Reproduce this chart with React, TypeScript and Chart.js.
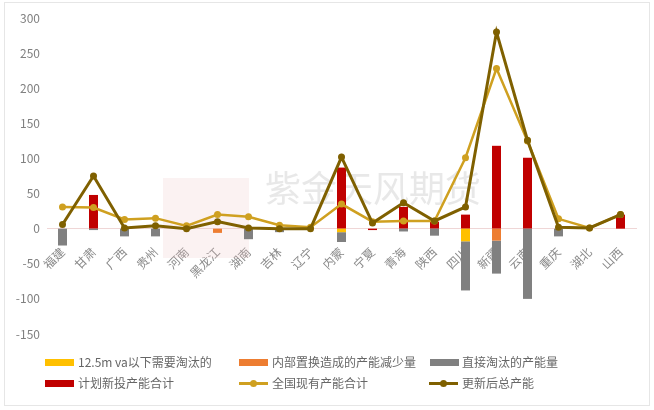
import React, { useEffect, useRef } from "react";
import { Chart, registerables } from "chart.js";

Chart.register(...registerables);

const categories = ["福建", "甘肃", "广西", "贵州", "河南", "黑龙江", "湖南", "吉林", "辽宁", "内蒙", "宁夏", "青海", "陕西", "四川", "新疆", "云南", "重庆", "湖北", "山西"];
const smallElim = [0, 0, 0, 0, 0, 0, 0, 0, 0, -5, 0, 0, 0, -18, 0, 0, 0, 0, 0];
const internalReplace = [0, 0, 0, 0, 0, -6, 0, 0, 0, 0, 0, 0, 0, 0, -17, 0, 0, 0, 0];
const directElim = [-24, -2, -11, -11, -1, 0, -15, -5, 0, -14, 0, -4, -10, -70, -47, -100, -11, 0, 0];
const plannedNew = [0, 48, 0, 0, 0, 0, 0, 0, 0, 87, -2, 31, 10, 20, 118, 101, 0, 0, 20];
const existingTotal = [31, 30, 13, 15, 4, 20, 17, 5, 2, 35, 10, 11, 11, 101, 228, 125, 14, 1, 20];
const updatedTotal = [6, 75, 1, 4, 0, 10, 1, 0, 0, 102, 8, 37, 11, 31, 280, 126, 2, 1, 20];
const yTicks = [-150, -100, -50, 0, 50, 100, 150, 200, 250, 300];

const seriesNames = ["12.5m va以下需要淘汰的", "内部置换造成的产能减少量", "直接淘汰的产能量", "计划新投产能合计", "全国现有产能合计", "更新后总产能"];
const colors = ["#FFC000", "#ED7D31", "#808080", "#C00000", "#CFA020", "#7F6000"];

const FONT = "'Noto Sans CJK SC', 'Noto Sans', sans-serif";

const watermark = {
  id: "watermark",
  beforeDatasetsDraw(chart: any) {
    const ctx = chart.ctx;
    ctx.save();
    ctx.fillStyle = "rgba(235, 195, 195, 0.22)";
    ctx.fillRect(163, 178, 86, 80);
    ctx.fillStyle = "rgba(205, 205, 205, 0.45)";
    ctx.font = "36px " + FONT;
    ctx.textBaseline = "middle";
    ctx.textAlign = "left";
    ctx.fillText("紫金天风期货", 265, 188);
    ctx.restore();
  },
};

export default function App() {
  const ref = useRef<HTMLCanvasElement | null>(null);

  useEffect(() => {
    document.body.style.margin = "0";
    const barBase = { type: "bar" as const, stack: "bars", order: 3, categoryPercentage: 1, barPercentage: 0.29 };
    const chart = new Chart(ref.current as HTMLCanvasElement, {
      type: "bar",
      data: {
        labels: categories,
        datasets: [
          { ...barBase, label: seriesNames[0], data: smallElim, backgroundColor: colors[0] },
          { ...barBase, label: seriesNames[1], data: internalReplace, backgroundColor: colors[1] },
          { ...barBase, label: seriesNames[2], data: directElim, backgroundColor: colors[2] },
          { ...barBase, label: seriesNames[3], data: plannedNew, backgroundColor: colors[3] },
          {
            type: "line" as const, label: seriesNames[4], data: existingTotal, stack: "l1", order: 2,
            borderColor: colors[4], backgroundColor: colors[4], borderWidth: 2.5, pointRadius: 3.5, pointBorderWidth: 0, tension: 0,
          },
          {
            type: "line" as const, label: seriesNames[5], data: updatedTotal, stack: "l2", order: 1,
            borderColor: colors[5], backgroundColor: colors[5], borderWidth: 3, pointRadius: 3.5, pointBorderWidth: 0, tension: 0,
          },
        ] as any,
      },
      options: {
        animation: false,
        responsive: false,
        layout: { padding: { left: 0, right: 18, top: 18, bottom: 76 } },
        plugins: { legend: { display: false }, tooltip: { enabled: false } },
        scales: {
          x: {
            stacked: true,
            position: { y: 0 } as any,
            grid: { display: false, drawTicks: false },
            border: { display: true, color: "#EFD6D6", width: 1 },
            ticks: { color: "#8A8A8A", font: { size: 12, family: FONT }, minRotation: 45, maxRotation: 45, padding: 16, autoSkip: false },
          },
          y: {
            stacked: true,
            min: -150,
            max: 300,
            afterBuildTicks: (scale: any) => { scale.ticks = yTicks.map((v) => ({ value: v })); },
            afterFit: (scale: any) => { scale.width = 47; },
            grid: { display: false, drawTicks: false },
            border: { display: false },
            ticks: { color: "#808080", font: { size: 12, family: FONT }, padding: 7 },
          },
        },
      },
      plugins: [watermark],
    } as any);
    return () => chart.destroy();
  }, []);

  const textStyle: React.CSSProperties = { position: "absolute", fontSize: 12, lineHeight: "16px", color: "#666", fontFamily: FONT, whiteSpace: "nowrap" };
  const legendItems = [
    { kind: "box", x: 45, cy: 362, color: colors[0], text: seriesNames[0], tx: 78 },
    { kind: "box", x: 239, cy: 362, color: colors[1], text: seriesNames[1], tx: 272 },
    { kind: "box", x: 430, cy: 362, color: colors[2], text: seriesNames[2], tx: 462 },
    { kind: "box", x: 45, cy: 383, color: colors[3], text: seriesNames[3], tx: 78 },
    { kind: "line", x: 239, cy: 383, color: colors[4], text: seriesNames[4], tx: 272 },
    { kind: "line", x: 429, cy: 383, color: colors[5], text: seriesNames[5], tx: 462 },
  ];

  return (
    <div style={{ position: "fixed", left: 0, top: 0, width: 654, height: 410, background: "#fff", overflow: "hidden" }}>
      <div style={{ position: "absolute", left: 4, top: 2, width: 646, height: 404, border: "1px solid #E6E6E6", boxSizing: "border-box" }} />
      <canvas ref={ref} width={654} height={410} style={{ position: "absolute", left: 0, top: 0 }} />
      {legendItems.map((it, i) => (
        <React.Fragment key={i}>
          {it.kind === "box" ? (
            <div style={{ position: "absolute", left: it.x, top: it.cy - 3.5, width: 29, height: 7, background: it.color }} />
          ) : (
            <>
              <div style={{ position: "absolute", left: it.x, top: it.cy - 1.5, width: 29, height: 3, background: it.color }} />
              <div style={{ position: "absolute", left: it.x + 14.5 - 3.5, top: it.cy - 3.5, width: 7, height: 7, borderRadius: "50%", background: it.color }} />
            </>
          )}
          <div style={{ ...textStyle, left: it.tx, top: it.cy - 8 }}>{it.text}</div>
        </React.Fragment>
      ))}
    </div>
  );
}
